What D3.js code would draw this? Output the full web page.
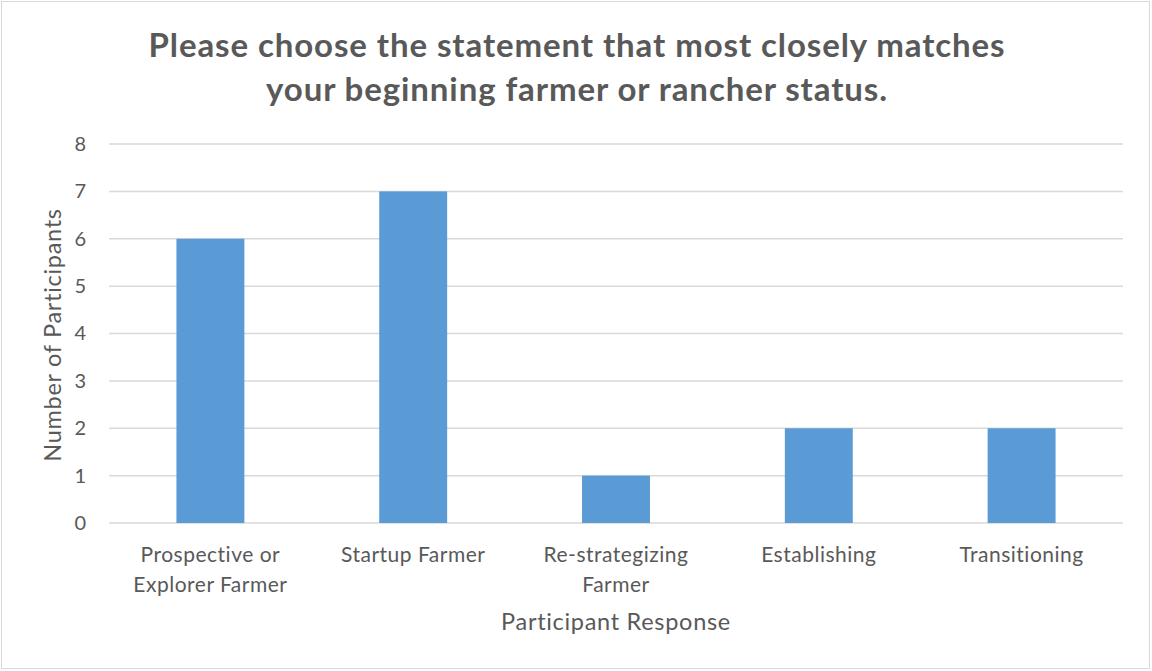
<!DOCTYPE html>
<html>
<head>
<meta charset="utf-8">
<script src="https://cdn.jsdelivr.net/npm/d3@7"></script>
<style>
  html, body { margin: 0; padding: 0; background: #fff; }
  svg { display: block; font-family: Lato, "Open Sans", sans-serif; }
</style>
</head>
<body>
<svg id="chart" width="1152" height="671"></svg>
<script>
// Survey responses: beginning farmer / rancher status
const titleLines = ["Please choose the statement that most closely matches",
                    "your beginning farmer or rancher status."];
const categories = [
  ["Prospective or", "Explorer Farmer"],
  ["Startup Farmer"],
  ["Re-strategizing", "Farmer"],
  ["Establishing"],
  ["Transitioning"]
];
const categoryKeys = ["Prospective or Explorer Farmer", "Startup Farmer",
                      "Re-strategizing Farmer", "Establishing", "Transitioning"];
const participants = [6, 7, 1, 2, 2];
const yTicks = [0, 1, 2, 3, 4, 5, 6, 7, 8];
const xTitle = "Participant Response";
const yTitle = "Number of Participants";

const svg = d3.select("#chart");
const W = 1152, H = 671;
const margin = { left: 109, right: 29, top: 144, bottom: 148 };
const textColor = "#595959";

// outer chart border
svg.append("rect")
  .attr("x", 1.5).attr("y", 1.5)
  .attr("width", W - 4).attr("height", H - 4)
  .attr("fill", "#fff").attr("stroke", "#d9d9d9").attr("stroke-width", 1);

const x = d3.scaleBand()
  .domain(categoryKeys)
  .range([margin.left, W - margin.right])
  .paddingInner(0.665)
  .paddingOuter(0.3325);

const y = d3.scaleLinear()
  .domain([0, 8])
  .range([H - margin.bottom, margin.top]);

// horizontal gridlines
svg.append("g")
  .selectAll("line")
  .data(yTicks)
  .join("line")
  .attr("x1", margin.left).attr("x2", W - margin.right)
  .attr("y1", d => y(d)).attr("y2", d => y(d))
  .attr("stroke", "#d9d9d9").attr("stroke-width", 1.5);

// y axis tick labels
const yAxis = d3.axisLeft(y).tickValues(yTicks).tickSize(0).tickPadding(23);
const gy = svg.append("g")
  .attr("transform", `translate(${margin.left},0)`)
  .call(yAxis);
gy.select(".domain").remove();
gy.selectAll("text")
  .attr("fill", textColor)
  .style("font-family", "Lato, sans-serif")
  .style("font-size", "20px");

// bars
svg.append("g")
  .selectAll("rect")
  .data(participants)
  .join("rect")
  .attr("x", (d, i) => x(categoryKeys[i]))
  .attr("width", x.bandwidth())
  .attr("y", d => y(d))
  .attr("height", d => y(0) - y(d))
  .attr("fill", "#5b9bd5");

// category labels (wrapped)
const xl = svg.append("g")
  .selectAll("text")
  .data(categories)
  .join("text")
  .attr("x", (d, i) => x(categoryKeys[i]) + x.bandwidth() / 2)
  .attr("y", 562)
  .attr("text-anchor", "middle")
  .attr("fill", textColor)
  .style("font-size", "21px")
  .style("letter-spacing", "0.5px");
xl.selectAll("tspan")
  .data(d => d)
  .join("tspan")
  .attr("x", function () { return d3.select(this.parentNode).attr("x"); })
  .attr("dy", (d, i) => i === 0 ? 0 : 30)
  .text(d => d);

// axis titles
svg.append("text")
  .attr("x", (margin.left + W - margin.right) / 2)
  .attr("y", 630)
  .attr("text-anchor", "middle")
  .attr("fill", textColor)
  .style("font-size", "23.5px")
  .style("letter-spacing", "0.7px")
  .text(xTitle);

svg.append("text")
  .attr("transform", `translate(61,335) rotate(-90)`)
  .attr("text-anchor", "middle")
  .attr("fill", textColor)
  .style("font-size", "23.5px")
  .style("letter-spacing", "0.7px")
  .text(yTitle);

// chart title
svg.append("g")
  .selectAll("text")
  .data(titleLines)
  .join("text")
  .attr("x", 577)
  .attr("y", (d, i) => 57 + i * 44)
  .attr("text-anchor", "middle")
  .attr("fill", textColor)
  .style("font-size", "33px")
  .style("font-weight", "bold")
  .style("letter-spacing", "0.9px")
  .text(d => d);
</script>
</body>
</html>
